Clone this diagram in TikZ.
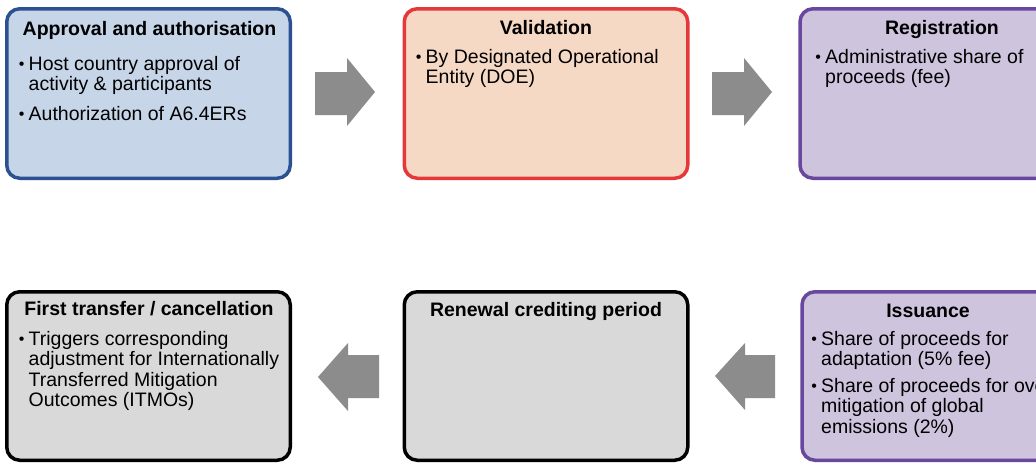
\documentclass[tikz,border=0pt]{standalone}
\usepackage{fontspec}
\setmainfont{Liberation Sans}
\definecolor{bluefill}{HTML}{C7D5E8}
\definecolor{blueline}{HTML}{2C5193}
\definecolor{peachfill}{HTML}{F6D9C5}
\definecolor{redline}{HTML}{E5383B}
\definecolor{lilacfill}{HTML}{CEC4DE}
\definecolor{purpleline}{HTML}{6A479E}
\definecolor{greyfill}{HTML}{D9D9D9}
\definecolor{arrowgrey}{HTML}{8C8C8C}
\newcommand\bul{\llap{\raisebox{1pt}{\fontsize{16}{16}\selectfont •}\hspace{4.2pt}}}
\begin{document}
\begin{tikzpicture}[x=1pt,y=-1pt,
  stagebox/.style={draw, line width=3.5pt, rounded corners=13pt, minimum width=283.5pt, minimum height=169.5pt, inner sep=0pt},
  ttl/.style={font=\fontsize{19.5}{20.5}\selectfont\bfseries, anchor=base, inner sep=0pt},
  bodytext/.style={font=\fontsize{19.5}{20.5}\selectfont, anchor=base west, align=left, inner sep=0pt},
  blockarrow/.style={fill=arrowgrey, draw=none}]
\useasboundingbox (0,0) rectangle (1036,464);
\clip (0,0) rectangle (1036,464);
\fill[white] (0,0) rectangle (1036,464);

% boxes
\node[stagebox, draw=blueline, fill=bluefill] (approval) at (148.5,93.5) {};
\node[stagebox, draw=redline, fill=peachfill] (validation) at (546,93.5) {};
\node[stagebox, draw=purpleline, fill=lilacfill] (registration) at (941.75,93.5) {};
\node[stagebox, draw=black, fill=greyfill, minimum height=168.5pt] (transfer) at (148.5,376) {};
\node[stagebox, draw=black, fill=greyfill, minimum height=168.5pt] (renewal) at (546,376) {};
\node[stagebox, draw=purpleline, fill=lilacfill, minimum height=168.5pt] (issuance) at (943.75,376) {};

% titles
\node[ttl] (t1) at (149.5,35) {Approval and authorisation};
\node[ttl] (t2) at (546,34) {Validation};
\node[ttl] (t3) at (942,34) {Registration};
\node[ttl] (t4) at (149,315) {First transfer / cancellation};
\node[ttl] (t5) at (546,316.5) {Renewal crediting period};
\node[ttl] (t6) at (928,317) {Issuance};

% bodies (anchored at the baseline of their last line)
\node[bodytext] (b1a) at (28.5,90.5) {\bul Host country approval of\\activity \& participants};
\node[bodytext] (b1b) at (28.5,120.5) {\bul Authorization of A6.4ERs};
\node[bodytext] (b2a) at (425.5,83.5) {\bul By Designated Operational\\Entity (DOE)};
\node[bodytext] (b3a) at (825,83.5) {\bul Administrative share of\\proceeds (fee)};
\node[bodytext] (b4a) at (28.5,406.5) {\bul Triggers corresponding\\adjustment for Internationally\\Transferred Mitigation\\Outcomes (ITMOs)};
\node[bodytext] (b6a) at (821,365.5) {\bul Share of proceeds for\\adaptation (5\% fee)};
\node[bodytext] (b6b) at (821,433) {\bul Share of proceeds for ove\\mitigation of global\\emissions (2\%)};

% block arrows
\fill[blockarrow] (315,72) -- (347,72) -- (347,58) -- (375,92) -- (347,126) -- (347,115) -- (315,115) -- cycle;
\fill[blockarrow] (712,72) -- (744,72) -- (744,58) -- (772,92) -- (744,126) -- (744,115) -- (712,115) -- cycle;
\fill[blockarrow] (379,355) -- (348,355) -- (348,343) -- (318,377) -- (348,411) -- (348,398) -- (379,398) -- cycle;
\fill[blockarrow] (775,355) -- (745,355) -- (745,343) -- (715,376) -- (745,410) -- (745,398) -- (775,398) -- cycle;
\end{tikzpicture}
\end{document}
